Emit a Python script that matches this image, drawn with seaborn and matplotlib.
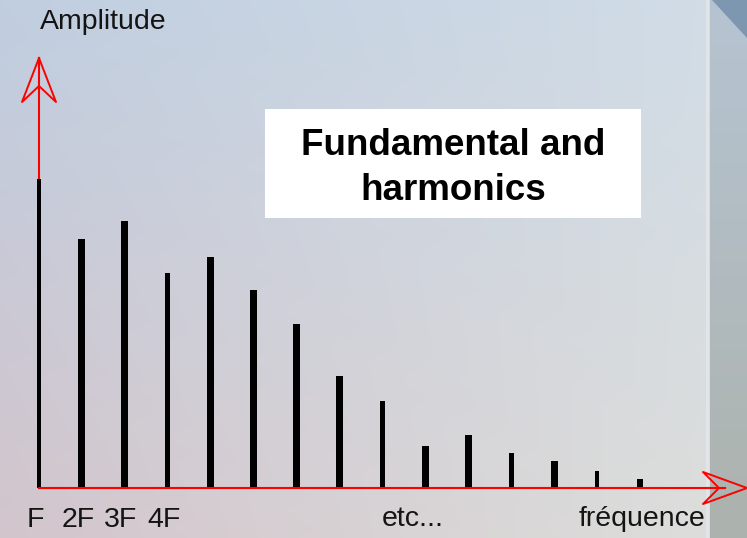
import numpy as np
import pandas as pd
import matplotlib
matplotlib.use('Agg')
from matplotlib import pyplot as plt
from matplotlib.patches import Rectangle
from matplotlib.transforms import ScaledTranslation
import seaborn as sns

# harmonic spectrum (fundamental = 100)
harmonics = list(range(1, 16))
amplitudes = [100, 80.6, 86.4, 69.6, 74.8, 64.1, 53.1, 36.2, 28.2, 13.6, 17.2, 11.3, 8.7, 5.5, 2.9]
tick_positions = [1, 2, 3, 4]
tick_labels = ['F', '2F', '3F', '4F']
thin_bars = [1, 4, 9, 12, 14]

df = pd.DataFrame({'harmonic': harmonics, 'amplitude': amplitudes})

W, H = 747, 538
base_px = 488          # baseline row in the picture
step_px = (640 - 39) / 14
unit_px = 309 / 100

fig = plt.figure(figsize=(W / 100, H / 100), dpi=100)

# background gradient
bg = fig.add_axes([0, 0, 1, 1])
bg.axis('off')
tl = np.array([192, 206, 224])
tr = np.array([210, 221, 231])
bl = np.array([211, 197, 204])
br = np.array([221, 223, 220])
yy = np.linspace(0, 1, H)[:, None, None]
xx = np.linspace(0, 1, W)[None, :, None]
img = tl * (1 - xx) * (1 - yy) + tr * xx * (1 - yy) + bl * (1 - xx) * yy + br * xx * yy
strip_top = np.array([182, 196, 210])
strip_bot = np.array([172, 178, 173])
img[:, 710:] = (strip_top * (1 - yy[:, 0]) + strip_bot * yy[:, 0])[:, None, :]
img[:, 706:709] = np.array([226, 229, 231])
bg.imshow(img.astype(np.uint8), extent=(0, W, H, 0), aspect='auto')
bg.fill([712, 747, 747], [0, 0, 38], color='#7d97b0', lw=0)
bg.add_patch(Rectangle((265, 109), 376, 109, color='white', lw=0))
bg.set_xlim(0, W)
bg.set_ylim(H, 0)

# main axes: x in harmonic number, y in amplitude
ax = fig.add_axes([0, (H - base_px) / H, 1, base_px / H])
ax.patch.set_alpha(0)
sns.barplot(data=df, x='harmonic', y='amplitude', native_scale=True, width=0.16,
            color='black', saturation=1, edgecolor='none', ax=ax, zorder=3)
for p, h in zip(ax.patches, harmonics):
    if h in thin_bars:
        c = p.get_x() + p.get_width() / 2
        p.set_width(0.11)
        p.set_x(c - 0.055)

x0 = 1 - 39 / step_px
x1 = 1 + (W - 39) / step_px
ax.set_xlim(x0, x1)
ax.set_ylim(0, base_px / unit_px)
ax.set_xlabel('')
ax.set_ylabel('')
ax.set_yticks([])

plt.rcParams['font.family'] = ['Liberation Sans', 'DejaVu Sans']
label_font = dict(family=['Liberation Sans', 'DejaVu Sans'], size=20.5, color='#141414')

ax.set_xticks(tick_positions, tick_labels)
ax.tick_params(axis='x', length=0, pad=13.5)
shift = ScaledTranslation(-4 / 100, 0, fig.dpi_scale_trans)
for t in ax.get_xticklabels():
    t.set(**label_font)
    t.set_transform(t.get_transform() + shift)

# red axes
y_tip = (base_px - 58) / unit_px
x_notch = 1 + (725 - 39) / step_px
for s in ['top', 'right']:
    ax.spines[s].set_visible(False)
ax.spines['left'].set_position(('data', 1))
ax.spines['left'].set_bounds(0, y_tip)
ax.spines['bottom'].set_bounds(1, x_notch)
for s in ['left', 'bottom']:
    ax.spines[s].set_color('red')
    ax.spines[s].set_linewidth(1.5)
ax.spines['left'].set_zorder(2)
ax.spines['bottom'].set_zorder(4)


def arrow_head(tip, direction, length=44, half=17, notch=28):
    # outline of an open arrow head, built in pixels then mapped to data
    tx, ty = ax.transData.transform(tip)
    dx, dy = direction
    px, py = -dy, dx
    pts = [(tx, ty),
           (tx - dx * length + px * half, ty - dy * length + py * half),
           (tx - dx * notch, ty - dy * notch),
           (tx - dx * length - px * half, ty - dy * length - py * half),
           (tx, ty)]
    d = ax.transData.inverted().transform(pts)
    ax.plot(d[:, 0], d[:, 1], color='red', lw=1.4, scalex=False, scaley=False,
            clip_on=False, zorder=5)


arrow_head((1, y_tip), (0, 1))
arrow_head((x1, 0), (1, 0), half=16)

for xpos, txt in [(9.71, 'etc...'), (15.05, 'fréquence')]:
    ax.annotate(txt, xy=(xpos, 0), xytext=(0, -18.5), textcoords='offset pixels',
                ha='center', va='top', annotation_clip=False, **label_font)

fig.text(40 / W, 1 - 9 / H, 'Amplitude', ha='left', va='top', **label_font)

fig.text(453 / W, 1 - 168 / H, 'Fundamental and\nharmonics', ha='center', va='center',
         fontsize=26.5, fontweight='bold', family=['Liberation Sans', 'DejaVu Sans'],
         linespacing=1.4, color='black')

fig.savefig('out.png', dpi=100)
